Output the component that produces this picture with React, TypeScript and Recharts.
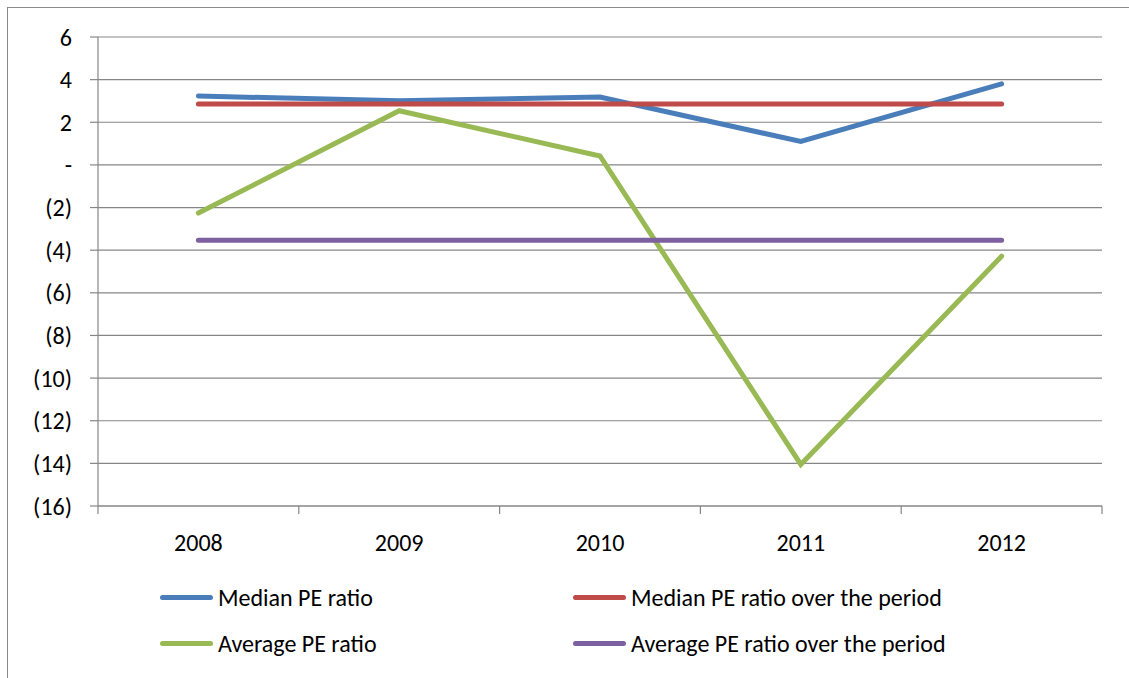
import { LineChart, Line, XAxis, YAxis, CartesianGrid } from 'recharts';

const years = ['2008', '2009', '2010', '2011', '2012'];
const medianPE = [3.23, 3.01, 3.18, 1.1, 3.8];
const medianPeriod = [2.86, 2.86, 2.86, 2.86, 2.86];
const averagePE = [-2.26, 2.54, 0.42, -14.05, -4.28];
const averagePeriod = [-3.53, -3.53, -3.53, -3.53, -3.53];
const yTicks = [-16, -14, -12, -10, -8, -6, -4, -2, 0, 2, 4, 6];
// category centres and category boundaries on a 0..5 numeric axis
const centreTicks = [0.5, 1.5, 2.5, 3.5, 4.5];
const boundaryTicks = [0, 1, 2, 3, 4, 5];

const series = [
  { key: 'medianPE', name: 'Median PE ratio', color: '#4A7EBB' },
  { key: 'medianPeriod', name: 'Median PE ratio over the period', color: '#BE4B48' },
  { key: 'averagePE', name: 'Average PE ratio', color: '#98B954' },
  { key: 'averagePeriod', name: 'Average PE ratio over the period', color: '#7D60A0' },
];

const data = years.map((year, i) => ({
  x: centreTicks[i],
  year,
  medianPE: medianPE[i],
  medianPeriod: medianPeriod[i],
  averagePE: averagePE[i],
  averagePeriod: averagePeriod[i],
}));

const FONT = 'Carlito, Calibri, Lato, sans-serif';
const GRID = '#868686';
const FS = 24;

const fmtY = (v: number) => (v === 0 ? '-' : v < 0 ? `(${Math.abs(v)})` : `${v}`);
const fmtYear = (v: number) => years[centreTicks.indexOf(v)] ?? '';

const LegendItem = ({ name, color }: { name: string; color: string }) => (
  <div style={{ display: 'flex', alignItems: 'center', height: 46 }}>
    <div style={{ width: 53, height: 5, borderRadius: 3, background: color, marginRight: 5 }} />
    <span style={{ fontSize: FS, color: '#000', fontFamily: FONT, whiteSpace: 'nowrap' }}>{name}</span>
  </div>
);

export default function App() {
  return (
    <div style={{ position: 'fixed', inset: 0, overflow: 'hidden', background: '#fff' }}>
      <div
        style={{
          position: 'absolute',
          left: 7,
          top: 7,
          width: 1200,
          height: 700,
          border: '1px solid #8a8a8a',
        }}
      />
      <div style={{ position: 'absolute', left: 0, top: 0 }}>
        <LineChart
          width={1129}
          height={678}
          data={data}
          margin={{ top: 37, right: 27, left: 0, bottom: 170 }}
          style={{ fontFamily: FONT }}
        >
          <CartesianGrid xAxisId="bnd" vertical={false} stroke={GRID} strokeWidth={1.2} />
          <XAxis
            xAxisId="bnd"
            dataKey="x"
            type="number"
            domain={[0, 5]}
            ticks={boundaryTicks}
            height={1}
            tickSize={8}
            stroke={GRID}
            strokeWidth={1.2}
            tickFormatter={() => ''}
          />
          <XAxis
            xAxisId="lbl"
            dataKey="x"
            type="number"
            domain={[0, 5]}
            ticks={centreTicks}
            height={1}
            axisLine={false}
            tickLine={false}
            tickSize={0}
            tickMargin={27}
            tickFormatter={fmtYear}
            tick={{ fontSize: FS, fill: '#000' }}
          />
          <YAxis
            width={98}
            domain={[-16, 6]}
            ticks={yTicks}
            interval={0}
            tickFormatter={fmtY}
            tickSize={8}
            tickMargin={18}
            stroke={GRID}
            strokeWidth={1.2}
            tick={{ fontSize: FS, fill: '#000' }}
          />
          {series.map((s) => (
            <Line
              key={s.key}
              xAxisId="bnd"
              dataKey={s.key}
              name={s.name}
              stroke={s.color}
              strokeWidth={5}
              strokeLinecap="round"
              strokeLinejoin="miter"
              dot={false}
              activeDot={false}
              isAnimationActive={false}
            />
          ))}
        </LineChart>
      </div>
      <div style={{ position: 'absolute', left: 160, top: 574, display: 'grid', gridTemplateColumns: '413px auto' }}>
        {series.map((s) => (
          <LegendItem key={s.key} name={s.name} color={s.color} />
        ))}
      </div>
    </div>
  );
}
